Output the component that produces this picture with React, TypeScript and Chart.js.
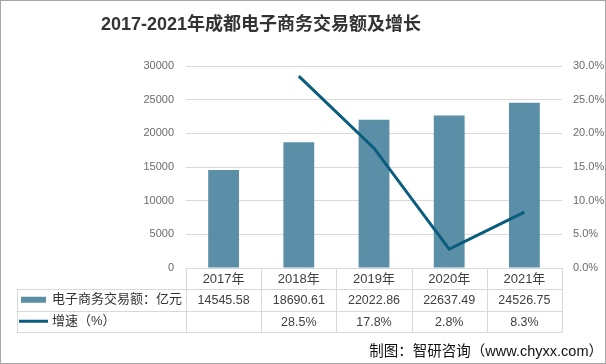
import React, { useEffect, useRef } from "react";
import { Chart, registerables } from "chart.js";

Chart.register(...registerables);

const title = "2017-2021年成都电子商务交易额及增长";
const categories = ["2017年", "2018年", "2019年", "2020年", "2021年"];
const amountLabel = "电子商务交易额：亿元";
const amounts = [14545.58, 18690.61, 22022.86, 22637.49, 24526.75];
const amountText = ["14545.58", "18690.61", "22022.86", "22637.49", "24526.75"];
const growthLabel = "增速（%）";
const growth: (number | null)[] = [null, 28.5, 17.8, 2.8, 8.3];
const growthText = ["", "28.5%", "17.8%", "2.8%", "8.3%"];
const source = "制图：智研咨询（www.chyxx.com）";

const BAR = "#5b8fa7";
const LINE = "#0b5d7e";
const GRID = "#d9d9d9";
const CJK = '"Liberation Sans", "Noto Sans CJK SC", sans-serif';

const tablePlugin = {
  id: "tablePlugin",
  afterDraw(chart: any) {
    const ctx = chart.ctx as CanvasRenderingContext2D;
    const ca = chart.chartArea;
    const n = categories.length;
    const colW = (ca.right - ca.left) / n;
    const tableLeft = 16.5;
    const r0 = ca.bottom;
    const r1 = r0 + 21;
    const r2 = r1 + 21.5;
    const r3 = r2 + 21.5;
    ctx.save();
    // outer border
    ctx.strokeStyle = "#a6a6a6";
    ctx.lineWidth = 1;
    ctx.strokeRect(0.5, 0.5, chart.width - 1, chart.height - 1);
    // title
    ctx.fillStyle = "#333333";
    ctx.font = 'bold 18px "Liberation Sans", "Noto Sans CJK SC", sans-serif';
    ctx.textAlign = "center";
    ctx.textBaseline = "middle";
    ctx.fillText(title, 261, 25);
    // table lines
    ctx.strokeStyle = GRID;
    ctx.lineWidth = 1;
    const hl = (x1: number, x2: number, y: number) => {
      ctx.beginPath();
      ctx.moveTo(x1, Math.round(y) + 0.5);
      ctx.lineTo(x2, Math.round(y) + 0.5);
      ctx.stroke();
    };
    const vl = (x: number, y1: number, y2: number) => {
      ctx.beginPath();
      ctx.moveTo(Math.round(x) + 0.5, y1);
      ctx.lineTo(Math.round(x) + 0.5, y2);
      ctx.stroke();
    };
    hl(ca.left, ca.right, r0);
    hl(tableLeft, ca.right, r1);
    hl(tableLeft, ca.right, r2);
    hl(tableLeft, ca.right, r3);
    vl(tableLeft, r1, r3 + 0.5);
    for (let i = 0; i <= n; i++) vl(ca.left + i * colW, r0, r3 + 0.5);
    // texts
    ctx.fillStyle = "#404040";
    ctx.textAlign = "center";
    ctx.textBaseline = "middle";
    for (let i = 0; i < n; i++) {
      const cx = ca.left + (i + 0.5) * colW;
      ctx.font = "13px " + CJK;
      ctx.fillText(categories[i], cx, (r0 + r1) / 2 + 1);
      ctx.font = "12.5px " + CJK;
      ctx.fillText(amountText[i], cx, (r1 + r2) / 2 + 1);
      ctx.fillText(growthText[i], cx, (r2 + r3) / 2 + 1);
    }
    // legend keys
    ctx.fillStyle = BAR;
    ctx.fillRect(21, (r1 + r2) / 2 - 3, 25, 6);
    ctx.strokeStyle = LINE;
    ctx.lineWidth = 3;
    ctx.beginPath();
    ctx.moveTo(19, (r2 + r3) / 2);
    ctx.lineTo(48, (r2 + r3) / 2);
    ctx.stroke();
    ctx.fillStyle = "#333333";
    ctx.textAlign = "left";
    ctx.font = "13px " + CJK;
    ctx.fillText(amountLabel, 52, (r1 + r2) / 2);
    ctx.fillText(growthLabel, 52, (r2 + r3) / 2);
    // source
    ctx.fillStyle = "#111111";
    ctx.textAlign = "right";
    ctx.font = "14.5px " + CJK;
    ctx.fillText(source, 603, 352);
    ctx.restore();
  },
};

export default function App() {
  const ref = useRef<HTMLCanvasElement>(null);
  useEffect(() => {
    if (!ref.current) return;
    const chart = new Chart(ref.current, {
      type: "bar",
      data: {
        labels: categories,
        datasets: [
          {
            type: "line",
            label: growthLabel,
            data: growth,
            yAxisID: "y1",
            borderColor: LINE,
            backgroundColor: LINE,
            borderWidth: 3,
            pointRadius: 0,
            tension: 0,
            order: 0,
          } as any,
          {
            type: "bar",
            label: amountLabel,
            data: amounts,
            yAxisID: "y",
            backgroundColor: BAR,
            categoryPercentage: 1,
            barPercentage: 0.41,
            order: 1,
          },
        ],
      },
      options: {
        responsive: false,
        animation: false,
        devicePixelRatio: 1,
        layout: { padding: { left: 0, right: 0, top: 66, bottom: 96 } },
        plugins: {
          legend: { display: false },
          title: { display: false },
          tooltip: { enabled: false },
        },
        scales: {
          x: { display: false, offset: true },
          y: {
            position: "left",
            min: 0,
            max: 30000,
            ticks: {
              stepSize: 5000,
              padding: 12,
              color: "#6b6b6b",
              font: { family: "Liberation Sans", size: 11 },
              callback: (v: any) => String(v),
            },
            grid: { color: GRID, drawTicks: false },
            border: { display: false },
            afterFit: (s: any) => {
              s.width = 186;
            },
          },
          y1: {
            position: "right",
            min: 0,
            max: 30,
            ticks: {
              stepSize: 5,
              padding: 11,
              color: "#6b6b6b",
              font: { family: "Liberation Sans", size: 11 },
              callback: (v: any) => Number(v).toFixed(1) + "%",
            },
            grid: { display: false, drawTicks: false },
            border: { display: false },
            afterFit: (s: any) => {
              s.width = 44;
            },
          },
        },
      },
      plugins: [tablePlugin],
    });
    return () => chart.destroy();
  }, []);
  return (
    <div style={{ position: "absolute", left: 0, top: 0, width: 606, height: 364, background: "#fff" }}>
      <canvas ref={ref} width={606} height={364} />
    </div>
  );
}
